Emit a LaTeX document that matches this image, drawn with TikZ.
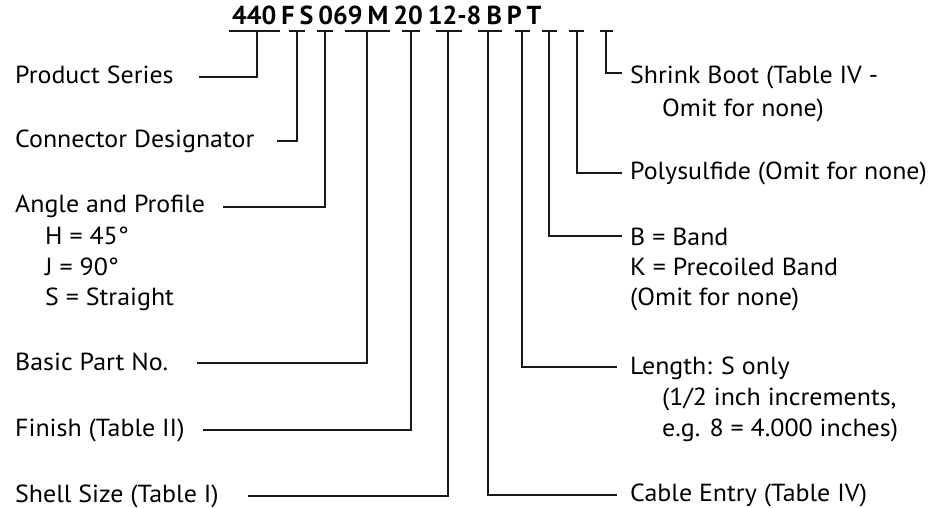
\documentclass[tikz,border=0pt]{standalone}
\usepackage{fontspec}
\setmainfont{PT Sans}[FakeStretch=1.05]
\newfontfamily\codefont{PT Sans}
\begin{document}
\begin{tikzpicture}[x=1pt,y=-1pt,
  lab/.style={anchor=base west, inner sep=0pt, font=\fontsize{24.7}{28}\selectfont, text=black},
  conn/.style={line width=2pt, black!90, line join=miter},
  bar/.style={line width=2pt, black!90}]
\useasboundingbox (0,0) rectangle (935,508);

% code string
\node[anchor=base west, inner sep=0pt, font=\codefont\bfseries\fontsize{26}{30}\selectfont, text=black] (code) at (232,25) {\spaceskip=5pt\relax 440 F S 069 M 20 12-8 B P T};

% top bars and stems
\foreach \n/\a/\b/\s in {1/229/280/257, 2/289/305/297, 3/317/333/325, 4/345/390/367,
  5/402/420/411, 6/436/462/448, 7/478/502/488, 8/515/530/522, 9/542/557/549,
  10/569/584/577, 11/600/613/606}{
  \coordinate (ba\n) at (\a,31);
  \coordinate (bb\n) at (\b,31);
  \coordinate (st\n) at (\s,31);
  \draw[bar] (ba\n) -- (bb\n);
}

% left labels
\node[lab] (ps) at (15,84) {Product Series};
\node[lab] (cd) at (15,148) {Connector Designator};
\node[lab] (ap) at (15,212) {Angle and Profile};
\node[lab] (ap1) at (45,244) {H = 45°};
\node[lab] (ap2) at (45,275) {J = 90°};
\node[lab] (ap3) at (45,305) {S = Straight};
\node[lab] (bp) at (15,370) {Basic Part No.};
\node[lab] (fi) at (15,436) {Finish (Table II)};
\node[lab] (ss) at (15,502) {Shell Size (Table I)};

% right labels
\node[lab] (sb) at (630,84) {Shrink Boot (Table IV -};
\node[lab] (sb1) at (662,117) {Omit for none)};
\node[lab] (po) at (630,180) {Polysulfide (Omit for none)};
\node[lab] (bd) at (630,245) {B = Band};
\node[lab] (bd1) at (630,275) {K = Precoiled Band};
\node[lab] (bd2) at (630,305) {(Omit for none)};
\node[lab] (le) at (630,374) {Length: S only};
\node[lab] (le1) at (662,405) {(1/2 inch increments,};
\node[lab] (le2) at (662,436) {e.g. 8 = 4.000 inches)};
\node[lab] (ce) at (630,501) {Cable Entry (Table IV)};

% connector ends
\coordinate (eps) at (199,77);
\coordinate (ecd) at (277,141);
\coordinate (eap) at (223,207);
\coordinate (ebp) at (197,363);
\coordinate (efi) at (203,430);
\coordinate (ess) at (248,496);
\coordinate (ece) at (617,495);
\coordinate (ele) at (617,367);
\coordinate (ebd) at (622,236);
\coordinate (epo) at (622,173);
\coordinate (esb) at (622,73);

% connectors
\draw[conn] (st1) |- (eps);
\draw[conn] (st2) |- (ecd);
\draw[conn] (st3) |- (eap);
\draw[conn] (st4) |- (ebp);
\draw[conn] (st5) |- (efi);
\draw[conn] (st6) |- (ess);
\draw[conn] (st7) |- (ece);
\draw[conn] (st8) |- (ele);
\draw[conn] (st9) |- (ebd);
\draw[conn] (st10) |- (epo);
\draw[conn] (st11) |- (esb);
\end{tikzpicture}
\end{document}
